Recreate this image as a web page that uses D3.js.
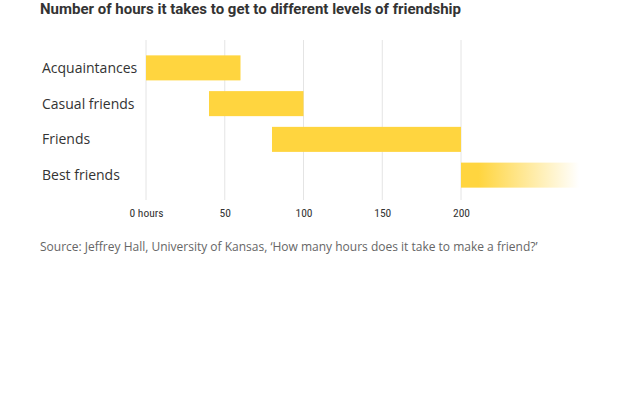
<!DOCTYPE html>
<html><head><meta charset="utf-8">
<script src="https://cdn.jsdelivr.net/npm/d3@7"></script>
<style>body{margin:0;background:#fff;font-family:"Open Sans",sans-serif}</style>
</head><body><svg id="c" width="620" height="400"></svg>
<script>
const categories = ["Acquaintances", "Casual friends", "Friends", "Best friends"];
const starts = [0, 40, 80, 200];
const ends = [60, 100, 200, 275];
const fadeOut = [false, false, false, true];
const ticks = [0, 50, 100, 150, 200];

const svg = d3.select("#c");
const x = d3.scaleLinear().domain([0, 200]).range([146, 461]);
const y = d3.scaleBand().domain(categories).range([50, 193]).paddingInner(0.3).paddingOuter(0.15);

svg.append("text").attr("x", 40).attr("y", 14)
  .attr("font-size", 15).attr("font-weight", 700).attr("fill", "#333")
  .attr("font-family", "Roboto, sans-serif")
  .text("Number of hours it takes to get to different levels of friendship");

const grad = svg.append("defs").append("linearGradient").attr("id", "fade");
grad.append("stop").attr("offset", "0%").attr("stop-color", "#ffd53f").attr("stop-opacity", 1);
grad.append("stop").attr("offset", "15%").attr("stop-color", "#ffd53f").attr("stop-opacity", 1);
grad.append("stop").attr("offset", "100%").attr("stop-color", "#ffd53f").attr("stop-opacity", 0);

const xAxis = d3.axisBottom(x).tickValues(ticks).tickSize(0)
  .tickFormat(d => d === 0 ? "0 hours" : d);
const gx = svg.append("g").attr("transform", "translate(0,205)").call(xAxis);
gx.select(".domain").remove();
gx.selectAll("text").attr("font-size", 11.5).attr("fill", "#333")
  .attr("font-family", "Roboto Condensed, Roboto, sans-serif").attr("dy", "0.35em").attr("y", 8);

svg.append("g").selectAll("line").data(ticks).join("line")
  .attr("x1", d => x(d)).attr("x2", d => x(d))
  .attr("y1", 40).attr("y2", 200).attr("stroke", "#e4e4e4");

svg.append("g").selectAll("rect").data(categories).join("rect")
  .attr("x", (d, i) => x(starts[i]))
  .attr("width", (d, i) => x(ends[i]) - x(starts[i]))
  .attr("y", d => y(d)).attr("height", y.bandwidth())
  .attr("fill", (d, i) => fadeOut[i] ? "url(#fade)" : "#ffd53f");

svg.append("g").selectAll("text").data(categories).join("text")
  .attr("x", 42).attr("y", d => y(d) + y.bandwidth() / 2).attr("dy", "0.35em")
  .attr("font-size", 14).attr("fill", "#333").text(d => d);

svg.append("text").attr("x", 40).attr("y", 251)
  .attr("font-size", 12).attr("fill", "#666")
  .text("Source: Jeffrey Hall, University of Kansas, ‘How many hours does it take to make a friend?’");
</script></body></html>
